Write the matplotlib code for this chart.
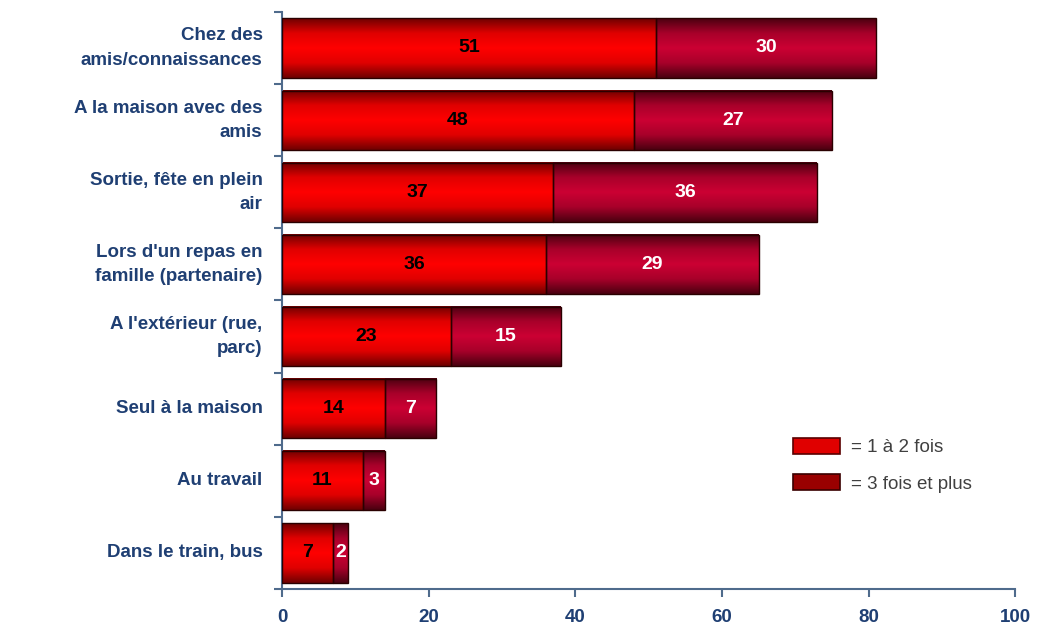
import numpy as np
import matplotlib
matplotlib.use("Agg")
import matplotlib.pyplot as plt
from matplotlib.colors import LinearSegmentedColormap
from matplotlib.patches import Patch

plt.rcParams["font.family"] = ["Liberation Sans", "DejaVu Sans"]

categories = [
    "Chez des\namis/connaissances",
    "A la maison avec des\namis",
    "Sortie, fête en plein\nair",
    "Lors d'un repas en\nfamille (partenaire)",
    "A l'extérieur (rue,\nparc)",
    "Seul à la maison",
    "Au travail",
    "Dans le train, bus",
]
once_twice = [51, 48, 37, 36, 23, 14, 11, 7]
three_plus = [30, 27, 36, 29, 15, 7, 3, 2]
series_names = ["= 1 à 2 fois", "= 3 fois et plus"]
x_ticks = [0, 20, 40, 60, 80, 100]

navy = "#1f3f73"
spine_col = "#4f6b8c"

# vertical shading: dark at the edges, bright through the middle
cmap_red = LinearSegmentedColormap.from_list("r", ["#6e0000", "#e00000", "#ff0000", "#e00000", "#6e0000"])
cmap_dark = LinearSegmentedColormap.from_list("d", ["#4a0010", "#a8002a", "#cc0033", "#a8002a", "#4a0010"])
grad = np.linspace(0, 1, 128).reshape(-1, 1)

fig = plt.figure(figsize=(10.37, 6.26), dpi=100)
ax = fig.add_axes([0.272, 0.059, 0.707, 0.922])

y = np.arange(len(categories))
h = 0.82


def shaded_bars(left, width, cmap):
    bars = ax.barh(y, width, left=left, height=h, color="none",
                   edgecolor="#2a0000", linewidth=1.0, zorder=3)
    for b in bars:
        x0, y0 = b.get_x(), b.get_y()
        ax.imshow(grad, cmap=cmap, aspect="auto", zorder=2,
                  extent=(x0, x0 + b.get_width(), y0 + b.get_height(), y0),
                  interpolation="bicubic")
    return bars


b1 = shaded_bars(0, once_twice, cmap_red)
b2 = shaded_bars(once_twice, three_plus, cmap_dark)

for bars, vals, col in [(b1, once_twice, "black"), (b2, three_plus, "white")]:
    for b, v in zip(bars, vals):
        ax.text(b.get_x() + b.get_width() / 2, b.get_y() + b.get_height() / 2, str(v),
                ha="center", va="center", color=col, fontsize=14,
                fontweight="bold", zorder=4)

ax.set_xlim(0, 100)
ax.set_ylim(len(categories) - 0.5, -0.5)
ax.set_xticks(x_ticks)
ax.set_xticklabels([str(t) for t in x_ticks], fontsize=13.5, fontweight="bold", color=navy)
ax.tick_params(axis="x", length=6, width=1.5, color=spine_col, pad=8)

ax.set_yticks(y)
ax.set_yticklabels(categories, fontsize=13.5, fontweight="bold", color=navy,
                   linespacing=1.55, va="center")
ax.tick_params(axis="y", length=0, pad=14)
ax.set_yticks(np.arange(len(categories) + 1) - 0.5, minor=True)
ax.tick_params(axis="y", which="minor", length=6, width=1.5, color=spine_col)

for s in ["top", "right"]:
    ax.spines[s].set_visible(False)
for s in ["left", "bottom"]:
    ax.spines[s].set_color(spine_col)
    ax.spines[s].set_linewidth(1.5)

handles = [Patch(facecolor="#e00000", edgecolor="#5a0000", linewidth=1.2),
           Patch(facecolor="#990000", edgecolor="#3a0000", linewidth=1.2)]
leg = ax.legend(handles, series_names, loc="upper left", bbox_to_anchor=(0.697, 0.262),
                frameon=False, fontsize=13.5, handlelength=2.5, handleheight=0.95,
                labelspacing=0.95, handletextpad=0.6, borderpad=0, borderaxespad=0)
for t in leg.get_texts():
    t.set_color("#404040")

fig.savefig("out.png", dpi=100)
